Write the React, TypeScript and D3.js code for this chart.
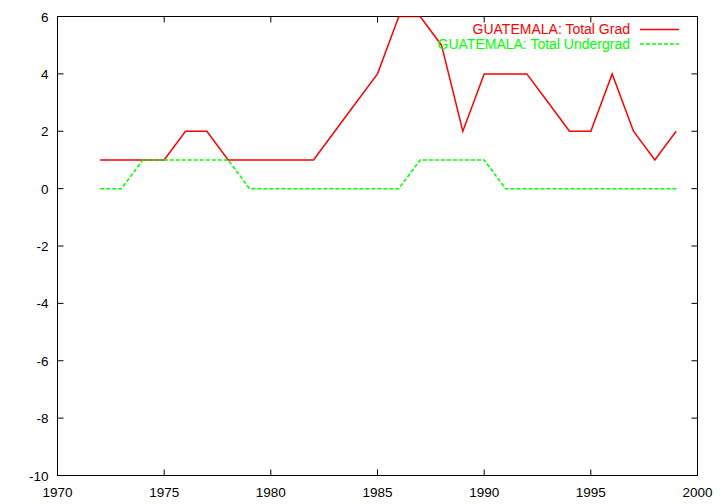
import React from "react";
import * as d3 from "d3";

const years = [1972,1973,1974,1975,1976,1977,1978,1979,1980,1981,1982,1983,1984,1985,1986,1987,1988,1989,1990,1991,1992,1993,1994,1995,1996,1997,1998,1999];
const totalGrad = [1,1,1,1,2,2,1,1,1,1,1,2,3,4,6,6,5,2,4,4,4,3,2,2,4,2,1,2];
const totalUndergrad = [0,0,1,1,1,1,1,0,0,0,0,0,0,0,0,1,1,1,1,0,0,0,0,0,0,0,0,0];
const xTicks = [1970,1975,1980,1985,1990,1995,2000];
const yTicks = [-10,-8,-6,-4,-2,0,2,4,6];
const seriesNames = ["GUATEMALA: Total Grad", "GUATEMALA: Total Undergrad"];

export default function App() {
  const W = 720, H = 504;
  const left = 57.5, right = 697.5, top = 16.5, bottom = 475.5;
  const x = d3.scaleLinear().domain([1970, 2000]).range([left, right]);
  const y = d3.scaleLinear().domain([-10, 6]).range([bottom, top]);
  const line = d3.line<number>().x((_, i) => x(years[i])).y(d => y(d));
  const font = "Liberation Sans, Arial, Helvetica, sans-serif";
  const series = [
    { name: seriesNames[0], vals: totalGrad, color: "#ff0000", dash: undefined },
    { name: seriesNames[1], vals: totalUndergrad, color: "#00ff00", dash: "4,2" },
  ];
  return (
    <svg width={W} height={H} style={{ position: "absolute", left: 0, top: 0 }} fontFamily={font}>
      <rect width={W} height={H} fill="#fff" />
      <defs>
        <clipPath id="clip"><rect x={left} y={top} width={right - left} height={bottom - top} /></clipPath>
      </defs>
      {xTicks.map(t => (
        <g key={"x" + t}>
          <line x1={x(t)} x2={x(t)} y1={bottom} y2={bottom - 6} stroke="#000" />
          <line x1={x(t)} x2={x(t)} y1={top} y2={top + 6} stroke="#000" />
          <text x={x(t)} y={bottom + 21} fontSize={13.5} textAnchor="middle">{t}</text>
        </g>
      ))}
      {yTicks.map(t => (
        <g key={"y" + t}>
          <line x1={left} x2={left + 6} y1={y(t)} y2={y(t)} stroke="#000" />
          <line x1={right} x2={right - 6} y1={y(t)} y2={y(t)} stroke="#000" />
          <text x={left - 9} y={y(t) + 5} fontSize={13.5} textAnchor="end">{t}</text>
        </g>
      ))}
      <rect x={left} y={top} width={right - left} height={bottom - top} fill="none" stroke="#000" />
      <g clipPath="url(#clip)">
        {series.map(s => (
          <path key={s.name} d={line(s.vals) || ""} fill="none" stroke={s.color} strokeWidth={1.5} strokeDasharray={s.dash} />
        ))}
      </g>
      {series.map((s, i) => (
        <g key={"l" + i}>
          <text x={630} y={34 + i * 14.5} fontSize={14} textAnchor="end" fill={s.color}>{s.name}</text>
          <line x1={640} x2={679} y1={29.5 + i * 14.5} y2={29.5 + i * 14.5} stroke={s.color} strokeWidth={1.5} strokeDasharray={s.dash} />
        </g>
      ))}
    </svg>
  );
}
